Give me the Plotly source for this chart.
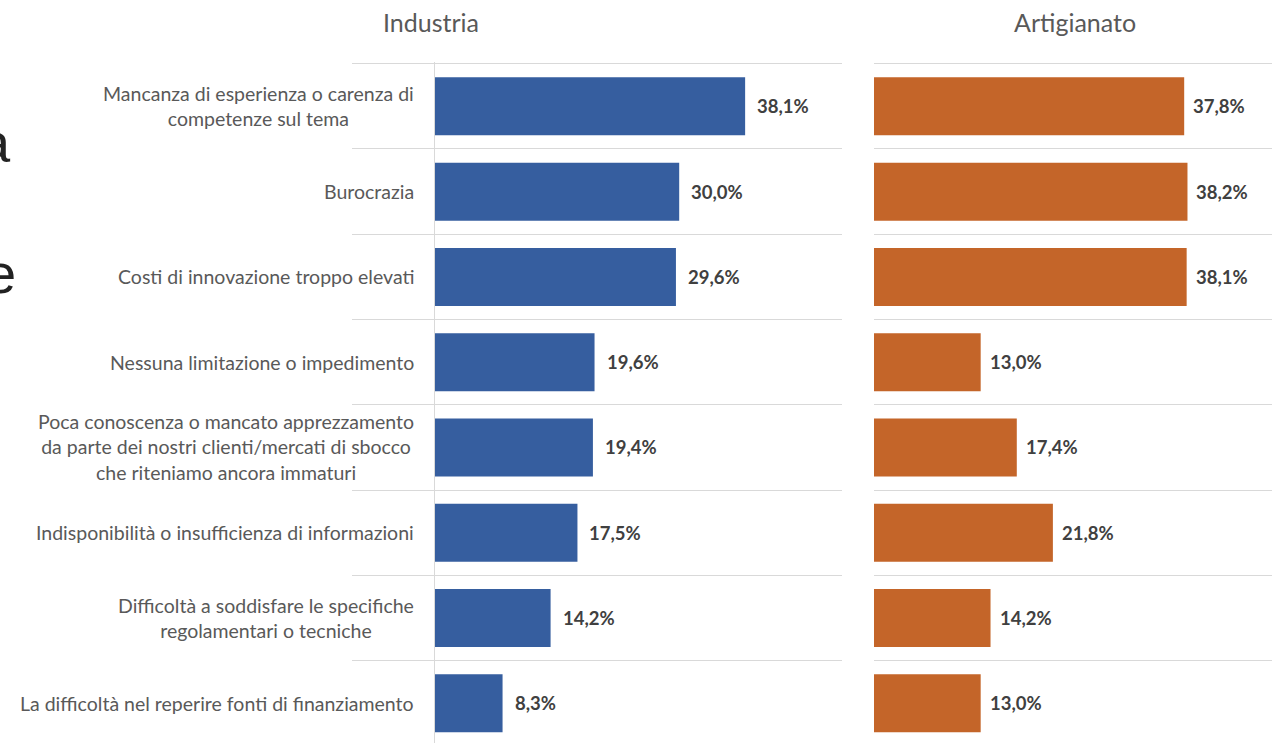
import plotly.graph_objects as go

categories = [
    "Mancanza di esperienza o carenza di<br>competenze sul tema",
    "Burocrazia",
    "Costi di innovazione troppo elevati",
    "Nessuna limitazione o impedimento",
    "Poca conoscenza o mancato apprezzamento<br>da parte dei nostri clienti/mercati di sbocco<br>che riteniamo ancora immaturi",
    "Indisponibilità o insufficienza di informazioni",
    "Difficoltà a soddisfare le specifiche<br>regolamentari o tecniche",
    "La difficoltà nel reperire fonti di finanziamento",
]
industria = [38.1, 30.0, 29.6, 19.6, 19.4, 17.5, 14.2, 8.3]
artigianato = [37.8, 38.2, 38.1, 13.0, 17.4, 21.8, 14.2, 13.0]
panel_titles = ["Industria", "Artigianato"]

W, H = 1272, 743
FONT = "Lato"
GRID = "#d9d9d9"
BLUE = "#365e9f"
ORANGE = "#c46529"

pos = list(range(len(categories)))
bounds = [p - 0.5 for p in pos]

def px(v):
    return v / W

def py(v):
    return 1 - v / H

fig = go.Figure()
fig.add_trace(go.Bar(x=industria, y=pos, orientation="h", marker=dict(color=BLUE, line=dict(width=0)),
                     xaxis="x", yaxis="y", hoverinfo="skip", showlegend=False))
fig.add_trace(go.Bar(x=artigianato, y=pos, orientation="h", marker=dict(color=ORANGE, line=dict(width=0)),
                     xaxis="x2", yaxis="y2", hoverinfo="skip", showlegend=False))

yrange = [7.465, -0.52]
common_y = dict(range=yrange, showticklabels=False, showgrid=False, zeroline=False, ticks="")

annotations = []
for i, c in enumerate(categories):
    annotations.append(dict(x=0, y=i, xref="x", yref="y", text=c, showarrow=False, xanchor="right",
                            yanchor="middle", align="center", xshift=-19,
                            font=dict(family=FONT, size=19.5, color="#595959")))
fmt = lambda v: f"{v:.1f}%".replace(".", ",")
for i, v in enumerate(industria):
    annotations.append(dict(x=v, y=i, xref="x", yref="y", text=fmt(v), showarrow=False, xanchor="left",
                            yanchor="middle", xshift=10,
                            font=dict(family=FONT, size=18.5, color="#404040", weight="bold")))
for i, v in enumerate(artigianato):
    annotations.append(dict(x=v, y=i, xref="x2", yref="y2", text=fmt(v), showarrow=False, xanchor="left",
                            yanchor="middle", xshift=7,
                            font=dict(family=FONT, size=18.5, color="#404040", weight="bold")))
annotations.append(dict(x=px(431), y=py(22), xref="paper", yref="paper", text=panel_titles[0], showarrow=False,
                        xanchor="center", yanchor="middle", font=dict(family=FONT, size=25, color="#595959")))
annotations.append(dict(x=px(1075), y=py(22), xref="paper", yref="paper", text=panel_titles[1], showarrow=False,
                        xanchor="center", yanchor="middle", font=dict(family=FONT, size=25, color="#595959")))
# clipped fragments of slide text at the left edge (cut off in the reference too)
annotations.append(dict(x=px(13), y=py(142), xref="paper", yref="paper", text="a", showarrow=False,
                        xanchor="right", yanchor="middle", font=dict(family="Liberation Sans", size=56, color="#222222")))
annotations.append(dict(x=px(18), y=py(273), xref="paper", yref="paper", text="e", showarrow=False,
                        xanchor="right", yanchor="middle", font=dict(family="Liberation Sans", size=56, color="#222222")))

fig.update_layout(
    width=W, height=H, margin=dict(l=0, r=0, t=0, b=0),
    paper_bgcolor="white", plot_bgcolor="white", bargap=0.32,
    xaxis=dict(domain=[px(435), px(842)], range=[0, 50], visible=False),
    xaxis2=dict(domain=[px(874), 1.0], range=[0, 48.5], visible=False),
    yaxis=dict(domain=[0, py(62)], anchor="x", showline=True, linecolor=GRID, linewidth=1.3,
               minor=dict(tickvals=bounds, ticks="outside", ticklen=82, tickwidth=1.3, tickcolor=GRID,
                          showgrid=True, gridcolor=GRID, gridwidth=1.3), **common_y),
    yaxis2=dict(domain=[0, py(62)], anchor="x2", showline=False,
                minor=dict(tickvals=bounds, ticks="", showgrid=True, gridcolor=GRID, gridwidth=1.3), **common_y),
    annotations=annotations,
)

fig.write_html("out.html", config={"displayModeBar": False},
               post_script="document.body.style.margin='0';document.body.style.padding='0';")
